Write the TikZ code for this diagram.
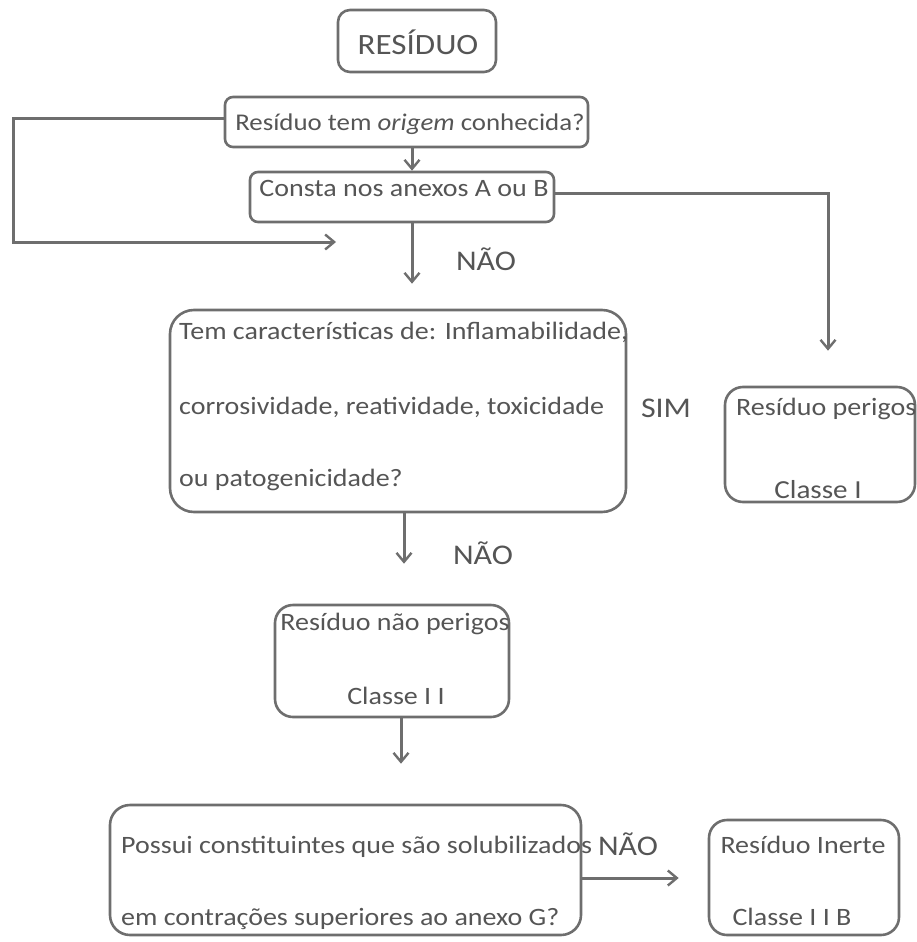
\documentclass[tikz,border=0pt]{standalone}
\usepackage{fontspec}
\setmainfont{Carlito}[FakeStretch=1.12]
\usetikzlibrary{arrows.meta}
\definecolor{ln}{HTML}{6E6E6E}
\definecolor{tx}{HTML}{555555}
\begin{document}
\begin{tikzpicture}[x=1pt,y=-1pt,
  box/.style={draw=ln,line width=2.6pt,rounded corners=12pt,inner sep=0pt},
  txt/.style={text=tx,font=\fontsize{25}{27}\selectfont,inner sep=0pt},
  lbl/.style={text=tx,font=\fontsize{28.5}{30}\selectfont,inner sep=0pt},
  conn/.style={draw=ln,line width=3pt},
  arr/.style={conn,-{Straight Barb[length=9pt,width=15pt,line width=2.4pt]}}]
\useasboundingbox (0,0) rectangle (916,942);
% boxes
\node[box,minimum width=158pt,minimum height=62pt] (b1) at (417,41) {};
\node[box,minimum width=363pt,minimum height=50pt,rounded corners=8pt] (b2) at (406.5,122) {};
\node[box,minimum width=304pt,minimum height=50pt,rounded corners=8pt] (b3) at (402,197) {};
\node[box,minimum width=456pt,minimum height=202pt,rounded corners=24pt] (b4) at (398,411) {};
\node[box,minimum width=190pt,minimum height=115pt,rounded corners=18pt] (c1) at (820,444.5) {};
\node[box,minimum width=234pt,minimum height=112pt,rounded corners=18pt] (b5) at (392,661) {};
\node[box,minimum width=471pt,minimum height=130pt,rounded corners=20pt] (b6) at (345.5,870) {};
\node[box,minimum width=190pt,minimum height=115pt,rounded corners=18pt] (b7) at (804,877.5) {};
% texts
\node[txt,anchor=base,font=\fontsize{29.5}{31}\selectfont] (t1) at (418,55) {RESÍDUO};
\node[txt,anchor=base,font=\fontsize{24}{26}\selectfont] (t2) at (410,130) {Resíduo tem \textit{origem} conhecida?};
\node[txt,anchor=base] (t3) at (404,196) {Consta nos anexos A ou B};
\node[txt,anchor=base west] (t4a) at (179,339) {Tem características de: Inflamabilidade,};
\node[txt,anchor=base west] (t4b) at (179,414) {corrosividade, reatividade, toxicidade};
\node[txt,anchor=base west] (t4c) at (179,486) {ou patogenicidade?};
\node[txt,anchor=base west] (t5a) at (736,415) {Resíduo perigos};
\node[txt,anchor=base,font=\fontsize{26}{28}\selectfont] (t5b) at (818,498) {Classe I};
\node[txt,anchor=base] (t6a) at (395,630) {Resíduo não perigos};
\node[txt,anchor=base] (t6b) at (396,704) {Classe I I};
\node[txt,anchor=base west] (t7a) at (121,853) {Possui constituintes que são solubilizados};
\node[txt,anchor=base west] (t7b) at (121,925) {em contrações superiores ao anexo G?};
\node[txt,anchor=base] (t8a) at (803,853) {Resíduo Inerte};
\node[txt,anchor=base] (t8b) at (792,925) {Classe I I B};
% labels
\node[lbl,anchor=base] (n1) at (486,270) {NÃO};
\node[lbl,anchor=base] (s1) at (666,417) {SIM};
\node[lbl,anchor=base] (n2) at (483,564) {NÃO};
\node[lbl,anchor=base] (n3) at (628,855) {NÃO};
% helper coordinates
\coordinate (xa) at (412,0);
\coordinate (xb) at (404,0);
\coordinate (xc) at (401,0);
\coordinate (xr) at (828,0);
\coordinate (lp1) at (13,118);
\coordinate (lp2) at (13,242);
\coordinate (lpe) at (336,242);
% connectors
\draw[arr] (b2.south -| xa) -- (b3.north -| xa);
\draw[arr] (b2.west |- lp1) -- (lp1) -- (lp2) -- (lpe);
\draw[arr] (b3.east |- 0,193) -- (xr |- 0,193) -- ([yshift=35pt]c1.north -| xr);
\draw[arr,shorten >=25pt] (b3.south -| xa) -- (b4.north -| xa);
\draw[arr,shorten >=40pt] (b4.south -| xb) -- (b5.north -| xb);
\draw[arr,shorten >=40pt] (b5.south -| xc) -- (b6.north -| xc);
\draw[arr,shorten >=29pt] (b6.east |- 0,878) -- (b7.west |- 0,878);
\end{tikzpicture}
\end{document}
